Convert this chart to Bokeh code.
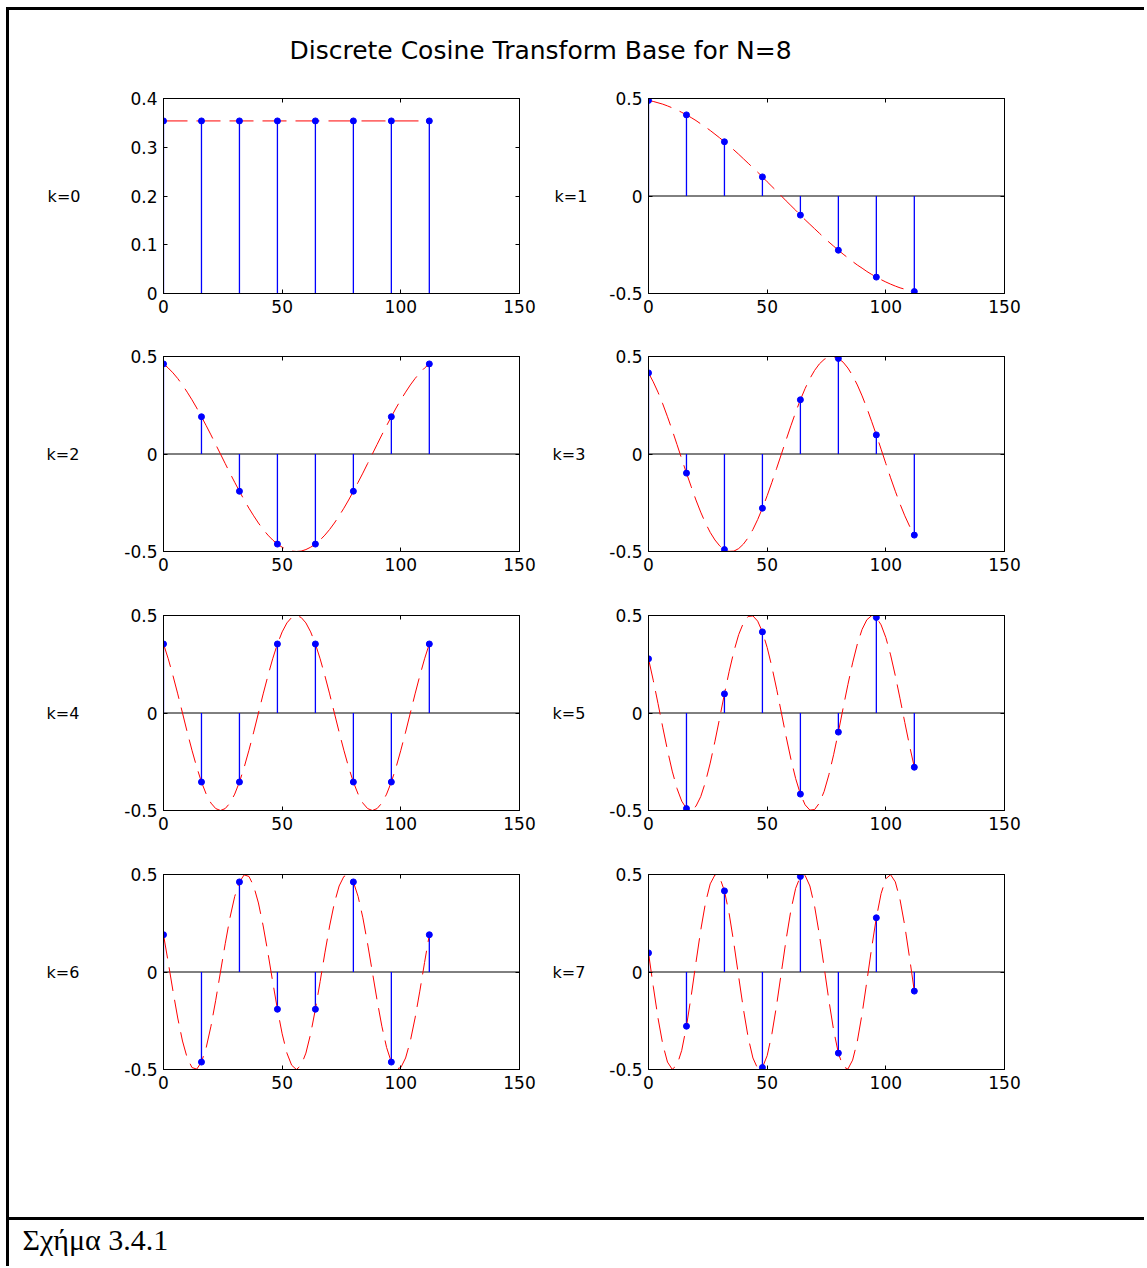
from bokeh.plotting import figure
from bokeh.layouts import row, column
from bokeh.models import Range1d, FixedTicker, LinearAxis, Span, Div, Spacer
from bokeh.embed import file_html
from bokeh.resources import INLINE
from bokeh.core.properties import value

# ---------------- data ----------------
title_text = "Discrete Cosine Transform Base for N=8"
caption_text = "Σχήμα 3.4.1"
k_labels = ["k=0", "k=1", "k=2", "k=3", "k=4", "k=5", "k=6", "k=7"]

sample_x = [0, 16, 32, 48, 64, 80, 96, 112]
x_ticks = [0, 50, 100, 150]

k0_stem = [0.354, 0.354, 0.354, 0.354, 0.354, 0.354, 0.354, 0.354]
k1_stem = [0.490, 0.416, 0.278, 0.098, -0.098, -0.278, -0.416, -0.490]
k2_stem = [0.462, 0.191, -0.191, -0.462, -0.462, -0.191, 0.191, 0.462]
k3_stem = [0.416, -0.098, -0.490, -0.278, 0.278, 0.490, 0.098, -0.416]
k4_stem = [0.354, -0.354, -0.354, 0.354, 0.354, -0.354, -0.354, 0.354]
k5_stem = [0.278, -0.490, 0.098, 0.416, -0.416, -0.098, 0.490, -0.278]
k6_stem = [0.191, -0.462, 0.462, -0.191, -0.191, 0.462, -0.462, 0.191]
k7_stem = [0.098, -0.278, 0.416, -0.490, 0.490, -0.416, 0.278, -0.098]

k0_curve_x = [0, 112]
k0_curve = [0.354, 0.354]

curve_x = list(range(0, 113, 2))
k1_curve = [0.490, 0.485, 0.478, 0.471, 0.462, 0.452, 0.441, 0.429, 0.416, 0.402,
            0.387, 0.370, 0.354, 0.336, 0.317, 0.298, 0.278, 0.257, 0.236, 0.214,
            0.191, 0.168, 0.145, 0.122, 0.098, 0.073, 0.049, 0.025, 0.0, -0.025,
            -0.049, -0.073, -0.098, -0.122, -0.145, -0.168, -0.191, -0.214, -0.236,
            -0.257, -0.278, -0.298, -0.317, -0.336, -0.354, -0.370, -0.387, -0.402,
            -0.416, -0.429, -0.441, -0.452, -0.462, -0.471, -0.478, -0.485, -0.490]
k2_curve = [0.462, 0.441, 0.416, 0.387, 0.354, 0.317, 0.278, 0.236, 0.191, 0.145,
            0.098, 0.049, 0.0, -0.049, -0.098, -0.145, -0.191, -0.236, -0.278, -0.317,
            -0.354, -0.387, -0.416, -0.441, -0.462, -0.478, -0.490, -0.498, -0.500,
            -0.498, -0.490, -0.478, -0.462, -0.441, -0.416, -0.387, -0.354, -0.317,
            -0.278, -0.236, -0.191, -0.145, -0.098, -0.049, 0.0, 0.049, 0.098, 0.145,
            0.191, 0.236, 0.278, 0.317, 0.354, 0.387, 0.416, 0.441, 0.462]
k3_curve = [0.416, 0.370, 0.317, 0.257, 0.191, 0.122, 0.049, -0.025, -0.098, -0.168,
            -0.236, -0.298, -0.354, -0.402, -0.441, -0.471, -0.490, -0.499,
            -0.498, -0.485, -0.462, -0.429, -0.387, -0.336, -0.278, -0.214, -0.145,
            -0.073, 0.0, 0.073, 0.145, 0.214, 0.278, 0.336, 0.387, 0.429, 0.462, 0.485,
            0.498, 0.499, 0.490, 0.471, 0.441, 0.402, 0.354, 0.298, 0.236, 0.168,
            0.098, 0.025, -0.049, -0.122, -0.191, -0.257, -0.317, -0.370, -0.416]
k4_curve = [0.354, 0.278, 0.191, 0.098, 0.0, -0.098, -0.191, -0.278, -0.354, -0.416,
            -0.462, -0.490, -0.500, -0.490, -0.462, -0.416, -0.354, -0.278, -0.191,
            -0.098, 0.0, 0.098, 0.191, 0.278, 0.354, 0.416, 0.462, 0.490, 0.500,
            0.490, 0.462, 0.416, 0.354, 0.278, 0.191, 0.098, 0.0, -0.098, -0.191,
            -0.278, -0.354, -0.416, -0.462, -0.490, -0.500, -0.490, -0.462, -0.416,
            -0.354, -0.278, -0.191, -0.098, 0.0, 0.098, 0.191, 0.278, 0.354]
k5_curve = [0.278, 0.168, 0.049, -0.073, -0.191, -0.298, -0.387, -0.452, -0.490,
            -0.499, -0.478, -0.429, -0.354, -0.257, -0.145, -0.025, 0.098, 0.214,
            0.317, 0.402, 0.462, 0.495, 0.498, 0.471, 0.416, 0.336, 0.236, 0.122,
            0.0, -0.122, -0.236, -0.336, -0.416, -0.471, -0.498, -0.495, -0.462,
            -0.402, -0.317, -0.214, -0.098, 0.025, 0.145, 0.257, 0.354, 0.429, 0.478,
            0.499, 0.490, 0.452, 0.387, 0.298, 0.191, 0.073, -0.049, -0.168, -0.278]
k6_curve = [0.191, 0.049, -0.098, -0.236, -0.354, -0.441, -0.490, -0.498, -0.462,
            -0.387, -0.278, -0.145, 0.0, 0.145, 0.278, 0.387, 0.462, 0.498, 0.490,
            0.441, 0.354, 0.236, 0.098, -0.049, -0.191, -0.317, -0.416, -0.478,
            -0.500, -0.478, -0.416, -0.317, -0.191, -0.049, 0.098, 0.236, 0.354,
            0.441, 0.490, 0.498, 0.462, 0.387, 0.278, 0.145, 0.0, -0.145, -0.278,
            -0.387, -0.462, -0.498, -0.490, -0.441, -0.354, -0.236, -0.098, 0.049, 0.191]
k7_curve = [0.098, -0.073, -0.236, -0.370, -0.462, -0.499, -0.478, -0.402, -0.278,
            -0.122, 0.049, 0.214, 0.354, 0.452, 0.498, 0.485, 0.416, 0.298, 0.145,
            -0.025, -0.191, -0.336, -0.441, -0.495, -0.490, -0.429, -0.317, -0.168,
            0.0, 0.168, 0.317, 0.429, 0.490, 0.495, 0.441, 0.336, 0.191, 0.025,
            -0.145, -0.298, -0.416, -0.485, -0.498, -0.452, -0.354, -0.214, -0.049,
            0.122, 0.278, 0.402, 0.478, 0.499, 0.462, 0.370, 0.236, 0.073, -0.098]

k0_yticks = [0, 0.1, 0.2, 0.3, 0.4]
k0_ylabels = ["0", "0.1", "0.2", "0.3", "0.4"]
yticks = [-0.5, 0, 0.5]
ylabels = ["-0.5", "0", "0.5"]

# ---------------- style ----------------
TICK_FONT = "DejaVu Sans"
TICK_SIZE = "17px"
BLUE = "#0000ff"
RED = "#ff0000"
FRAME_W, FRAME_H = 356, 195


def style_axis(ax, ticks, labels=None, show_labels=True):
    ax.ticker = FixedTicker(ticks=ticks)
    ax.major_tick_in = 4
    ax.major_tick_out = 0
    ax.minor_tick_line_color = None
    ax.axis_line_color = "black"
    ax.major_tick_line_color = "black"
    ax.major_label_text_font = TICK_FONT
    ax.major_label_text_font_size = TICK_SIZE
    ax.major_label_text_color = "black"
    ax.major_label_standoff = 6
    if not show_labels:
        ax.major_label_overrides = {t: "" for t in ticks}
    elif labels is not None:
        ax.major_label_overrides = dict(zip(ticks, labels))


def panel(label, stems, cx, cy, left, top_pad, bottom_pad, yr, ytks, ylbls, label_standoff):
    mbl, mbr = (154, 20) if left else (109, 140)
    p = figure(width=mbl + FRAME_W + mbr, height=top_pad + FRAME_H + bottom_pad,
               x_range=Range1d(0, 150), y_range=Range1d(*yr),
               output_backend="svg", toolbar_location=None,
               min_border_left=mbl, min_border_right=mbr,
               min_border_top=top_pad, min_border_bottom=bottom_pad,
               background_fill_color="white", border_fill_color="white",
               outline_line_color="black", outline_line_width=1)
    p.grid.visible = False
    style_axis(p.xaxis[0], x_ticks)
    style_axis(p.yaxis[0], ytks, ylbls)
    yax = p.yaxis[0]
    yax.axis_label = label
    yax.axis_label_orientation = "horizontal"
    yax.axis_label_text_font = TICK_FONT
    yax.axis_label_text_font_size = "16px"
    yax.axis_label_text_font_style = "normal"
    yax.axis_label_text_color = "black"
    yax.axis_label_standoff = label_standoff

    top_ax = LinearAxis()
    style_axis(top_ax, x_ticks, show_labels=False)
    p.add_layout(top_ax, "above")
    right_ax = LinearAxis()
    style_axis(right_ax, ytks, show_labels=False)
    p.add_layout(right_ax, "right")

    if yr[0] < 0:
        p.add_layout(Span(location=0, dimension="width", line_color="black",
                          line_width=1, level="underlay"))
    p.segment(x0=sample_x, y0=[0] * len(sample_x), x1=sample_x, y1=stems,
              line_color=BLUE, line_width=1.3)
    p.line(cx, cy, line_color=RED, line_width=1, line_dash="24 9")
    p.scatter(sample_x, stems, size=6, fill_color=BLUE, line_color=BLUE)
    return p


def strip(w, h):
    return Div(text="", width=w, height=h,
               styles={"background-color": "black", "margin": "0", "padding": "0"})


CONTENT_W = 1135

p0 = panel(k_labels[0], k0_stem, k0_curve_x, k0_curve, True, 30, 33, (0, 0.4), k0_yticks, k0_ylabels, 47)
p1 = panel(k_labels[1], k1_stem, curve_x, k1_curve, False, 30, 33, (-0.5, 0.5), yticks, ylabels, 19)
p2 = panel(k_labels[2], k2_stem, curve_x, k2_curve, True, 30, 34, (-0.5, 0.5), yticks, ylabels, 42)
p3 = panel(k_labels[3], k3_stem, curve_x, k3_curve, False, 30, 34, (-0.5, 0.5), yticks, ylabels, 21)
p4 = panel(k_labels[4], k4_stem, curve_x, k4_curve, True, 30, 34, (-0.5, 0.5), yticks, ylabels, 42)
p5 = panel(k_labels[5], k5_stem, curve_x, k5_curve, False, 30, 34, (-0.5, 0.5), yticks, ylabels, 21)
p6 = panel(k_labels[6], k6_stem, curve_x, k6_curve, True, 30, 148, (-0.5, 0.5), yticks, ylabels, 42)
p7 = panel(k_labels[7], k7_stem, curve_x, k7_curve, False, 30, 148, (-0.5, 0.5), yticks, ylabels, 21)

# title
tf = figure(width=CONTENT_W, height=58, x_range=Range1d(0, CONTENT_W), y_range=Range1d(0, 58),
            title=None, x_axis_type=None, y_axis_type=None, min_border=0,
            outline_line_color=None, toolbar_location=None, output_backend="svg",
            background_fill_color="white", border_fill_color="white")
tf.text(x=[531], y=[18], text=[title_text], text_font=value("DejaVu Sans"),
        text_font_size="25px", text_align="center", text_baseline="middle",
        text_color="black")

# caption
cf = figure(width=CONTENT_W, height=46, x_range=Range1d(0, CONTENT_W), y_range=Range1d(0, 46),
            title=None, x_axis_type=None, y_axis_type=None, min_border=0,
            outline_line_color=None, toolbar_location=None, output_backend="svg",
            background_fill_color="white", border_fill_color="white")
cf.text(x=[13], y=[27], text=[caption_text], text_font=value("Liberation Serif"),
        text_font_size="30px", text_align="left", text_baseline="middle",
        text_color="black")

content = column(strip(CONTENT_W, 3), tf, row(p0, p1), row(p2, p3), row(p4, p5), row(p6, p7),
                 strip(CONTENT_W, 3), cf)
total_h = 3 + 58 + 258 + 259 + 259 + 373 + 3 + 46
inner = row(Spacer(width=6, height=total_h), strip(3, total_h), content)
layout = column(Spacer(width=10, height=7), inner)

open("out.html", "w").write(file_html(layout, INLINE, "DCT"))
